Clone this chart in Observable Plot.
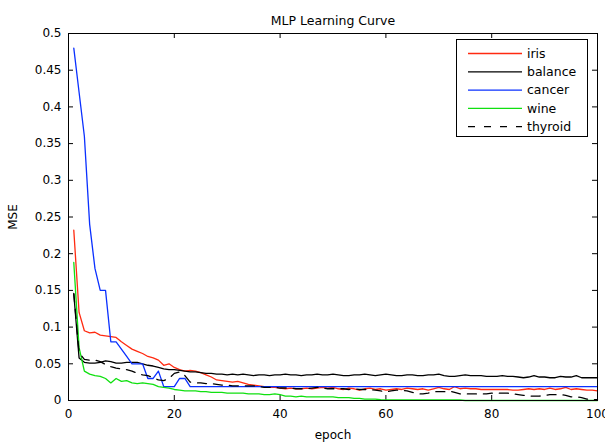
<!DOCTYPE html>
<html>
<head>
<meta charset="utf-8">
<script src="https://cdn.jsdelivr.net/npm/d3@7"></script>
<script src="https://cdn.jsdelivr.net/npm/@observablehq/plot@0.6"></script>
<style>
  body { margin: 0; background: #fff; }
  #chart { position: relative; width: 605px; height: 443px; }
</style>
</head>
<body>
<div id="chart"></div>
<script>
// Training epochs and the mean squared error reached on each data set.
const epochs = d3.range(1, 101);

const iris = [
  0.232, 0.120, 0.095, 0.092, 0.093, 0.089, 0.088, 0.087, 0.086, 0.080,
  0.075, 0.070, 0.067, 0.064, 0.060, 0.058, 0.055, 0.048, 0.050, 0.045,
  0.042, 0.040, 0.041, 0.040, 0.038, 0.035, 0.032, 0.028, 0.027, 0.026,
  0.025, 0.026, 0.024, 0.022, 0.021, 0.020, 0.019, 0.018, 0.018, 0.017,
  0.016, 0.017, 0.016, 0.016, 0.017, 0.016, 0.017, 0.018, 0.017, 0.018,
  0.016, 0.015, 0.017, 0.016, 0.014, 0.016, 0.017, 0.015, 0.016, 0.014,
  0.015, 0.016, 0.015, 0.017, 0.016, 0.015, 0.016, 0.014, 0.016, 0.018,
  0.016, 0.015, 0.019, 0.016, 0.017, 0.016, 0.016, 0.015, 0.015, 0.015,
  0.015, 0.015, 0.015, 0.014, 0.014, 0.015, 0.016, 0.015, 0.016, 0.015,
  0.017, 0.015, 0.016, 0.018, 0.015, 0.016, 0.015, 0.014, 0.014, 0.013
];

const balance = [
  0.145, 0.058, 0.052, 0.051, 0.051, 0.052, 0.054, 0.053, 0.051, 0.051,
  0.052, 0.052, 0.052, 0.050, 0.048, 0.047, 0.045, 0.043, 0.042, 0.042,
  0.041, 0.040, 0.039, 0.039, 0.038, 0.037, 0.037, 0.036, 0.036, 0.035,
  0.036, 0.035, 0.036, 0.035, 0.034, 0.035, 0.035, 0.034, 0.035, 0.035,
  0.036, 0.035, 0.035, 0.034, 0.035, 0.035, 0.036, 0.035, 0.035, 0.036,
  0.035, 0.034, 0.034, 0.035, 0.035, 0.036, 0.035, 0.034, 0.035, 0.036,
  0.035, 0.034, 0.034, 0.035, 0.035, 0.034, 0.034, 0.035, 0.035, 0.036,
  0.034, 0.033, 0.033, 0.034, 0.035, 0.034, 0.034, 0.034, 0.033, 0.033,
  0.033, 0.034, 0.033, 0.033, 0.032, 0.031, 0.032, 0.034, 0.032, 0.032,
  0.031, 0.031, 0.033, 0.032, 0.032, 0.034, 0.031, 0.031, 0.031, 0.031
];

const cancer = [
  0.480, 0.420, 0.360, 0.240, 0.180, 0.150, 0.150, 0.080, 0.080, 0.070,
  0.060, 0.050, 0.050, 0.050, 0.030, 0.030, 0.040, 0.019, 0.019, 0.019,
  0.030, 0.030, 0.019, 0.019, 0.019, 0.019, 0.019, 0.019, 0.019, 0.019,
  0.019, 0.019, 0.019, 0.019, 0.019, 0.019, 0.019, 0.019, 0.019, 0.019,
  0.019, 0.019, 0.019, 0.019, 0.019, 0.019, 0.019, 0.019, 0.019, 0.019,
  0.019, 0.019, 0.019, 0.019, 0.019, 0.019, 0.019, 0.019, 0.019, 0.019,
  0.019, 0.019, 0.019, 0.019, 0.019, 0.019, 0.019, 0.019, 0.019, 0.019,
  0.019, 0.019, 0.019, 0.019, 0.019, 0.019, 0.019, 0.019, 0.019, 0.019,
  0.019, 0.019, 0.019, 0.019, 0.019, 0.019, 0.019, 0.019, 0.019, 0.019,
  0.019, 0.019, 0.019, 0.019, 0.019, 0.019, 0.019, 0.019, 0.019, 0.019
];

const wine = [
  0.188, 0.072, 0.040, 0.036, 0.034, 0.033, 0.030, 0.024, 0.030, 0.026,
  0.027, 0.024, 0.023, 0.024, 0.023, 0.022, 0.019, 0.018, 0.017, 0.015,
  0.014, 0.013, 0.013, 0.013, 0.012, 0.012, 0.011, 0.011, 0.011, 0.010,
  0.010, 0.010, 0.010, 0.009, 0.009, 0.009, 0.008, 0.008, 0.009, 0.008,
  0.006, 0.006, 0.005, 0.006, 0.005, 0.005, 0.005, 0.005, 0.005, 0.005,
  0.004, 0.004, 0.004, 0.003, 0.003, 0.002, 0.002, 0.002, 0.001, 0.0007,
  0.0007, 0.0007, 0.0007, 0.0007, 0.0007, 0.0007, 0.0007, 0.0007, 0.0007, 0.0007,
  0.0007, 0.0007, 0.0007, 0.0007, 0, 0, 0, 0, 0, 0,
  0, 0, 0, 0, 0, 0, 0, 0, 0, 0,
  0, 0, 0, 0, 0, 0, 0, 0, 0, 0
];

const thyroid = [
  0.146, 0.065, 0.056, 0.055, 0.055, 0.053, 0.049, 0.046, 0.044, 0.043,
  0.042, 0.040, 0.037, 0.035, 0.034, 0.031, 0.028, 0.027, 0.030, 0.037,
  0.039, 0.034, 0.025, 0.024, 0.024, 0.023, 0.023, 0.022, 0.021, 0.021,
  0.020, 0.020, 0.020, 0.020, 0.020, 0.019, 0.018, 0.018, 0.018, 0.017,
  0.017, 0.017, 0.016, 0.016, 0.016, 0.017, 0.018, 0.017, 0.016, 0.016,
  0.016, 0.016, 0.015, 0.016, 0.015, 0.015, 0.015, 0.014, 0.013, 0.012,
  0.013, 0.014, 0.014, 0.013, 0.011, 0.009, 0.009, 0.010, 0.012, 0.012,
  0.012, 0.013, 0.011, 0.009, 0.009, 0.009, 0.009, 0.009, 0.009, 0.010,
  0.010, 0.010, 0.010, 0.009, 0.008, 0.007, 0.006, 0.006, 0.006, 0.007,
  0.008, 0.008, 0.008, 0.007, 0.005, 0.005, 0.004, 0.002, 0.001, 0.001
];

const seriesNames = ["iris", "balance", "cancer", "wine", "thyroid"];
const seriesValues = [iris, balance, cancer, wine, thyroid];
const seriesColors = ["#ff2a10", "#000000", "#0a30ff", "#10e010", "#000000"];
const seriesDash = [null, null, null, null, "9,7"];

const xTicks = [0, 20, 40, 60, 80, 100];
const yTicks = [0, 0.05, 0.1, 0.15, 0.2, 0.25, 0.3, 0.35, 0.4, 0.45, 0.5];
const yTickLabels = ["0", "0.05", "0.1", "0.15", "0.2", "0.25", "0.3", "0.35", "0.4", "0.45", "0.5"];

const titleText = "MLP Learning Curve";
const font = "DejaVu Sans";

// Long-format table for the line marks.
const rows = seriesNames.flatMap((name, i) =>
  seriesValues[i].map((v, j) => ({series: name, epoch: epochs[j], mse: v}))
);

const W = 605, H = 443;
const mL = 68, mT = 33, mR = 8, mB = 43;
const innerW = W - mL - mR, innerH = H - mT - mB;
const tickLen = 5;

const svg = Plot.plot({
  width: W,
  height: H,
  marginLeft: mL,
  marginTop: mT,
  marginRight: mR,
  marginBottom: mB,
  style: {fontFamily: font, fontSize: "12px", background: "#fff", color: "#000", overflow: "visible"},
  x: {
    domain: [0, 100],
    ticks: xTicks,
    tickSize: 0,
    tickPadding: 9,
    label: "epoch",
    labelAnchor: "center",
    labelOffset: 38,
    labelArrow: "none"
  },
  y: {
    domain: [0, 0.5],
    ticks: yTicks,
    tickSize: 0,
    tickPadding: 7,
    tickFormat: d => yTickLabels[yTicks.indexOf(d)],
    label: "MSE",
    labelAnchor: "center",
    labelOffset: 60,
    labelArrow: "none"
  },
  marks: [
    // inward ticks on all four sides of the box
    Plot.tickX(xTicks, {x: d => d, insetTop: innerH - tickLen, stroke: "#000"}),
    Plot.tickX(xTicks, {x: d => d, insetBottom: innerH - tickLen, stroke: "#000"}),
    Plot.tickY(yTicks, {y: d => d, insetRight: innerW - tickLen, stroke: "#000"}),
    Plot.tickY(yTicks, {y: d => d, insetLeft: innerW - tickLen, stroke: "#000"}),
    ...seriesNames.map((name, i) =>
      Plot.line(rows.filter(r => r.series === name), {
        x: "epoch",
        y: "mse",
        stroke: seriesColors[i],
        strokeWidth: 1.3,
        strokeDasharray: seriesDash[i]
      })
    ),
    Plot.frame({stroke: "#000", strokeWidth: 1}),
    Plot.text([titleText], {frameAnchor: "top", dy: -17, fontSize: 12.5, fill: "#000"})
  ]
});

document.getElementById("chart").appendChild(svg);

// Legend box in the upper right corner of the axes.
const legend = d3.select(svg).append("g")
  .attr("transform", `translate(${mL + innerW - 141},${mT + 6})`)
  .attr("font-family", font)
  .attr("font-size", 12.5)
  .attr("text-anchor", "start");
legend.append("rect")
  .attr("x", 0.5).attr("y", 0.5)
  .attr("width", 131).attr("height", 97)
  .attr("fill", "#fff").attr("stroke", "#000");
const entry = legend.selectAll("g.entry")
  .data(seriesNames)
  .join("g")
  .attr("class", "entry")
  .attr("transform", (d, i) => `translate(0,${14.5 + i * 18.3})`);
entry.append("line")
  .attr("x1", 12).attr("x2", 66)
  .attr("stroke", (d, i) => seriesColors[i])
  .attr("stroke-width", 1.3)
  .attr("stroke-dasharray", (d, i) => seriesDash[i] === null ? null : "7,9");
entry.append("text")
  .attr("x", 71)
  .attr("dy", "0.35em")
  .attr("fill", "#000")
  .attr("text-anchor", "start")
  .text(d => d);
</script>
</body>
</html>
